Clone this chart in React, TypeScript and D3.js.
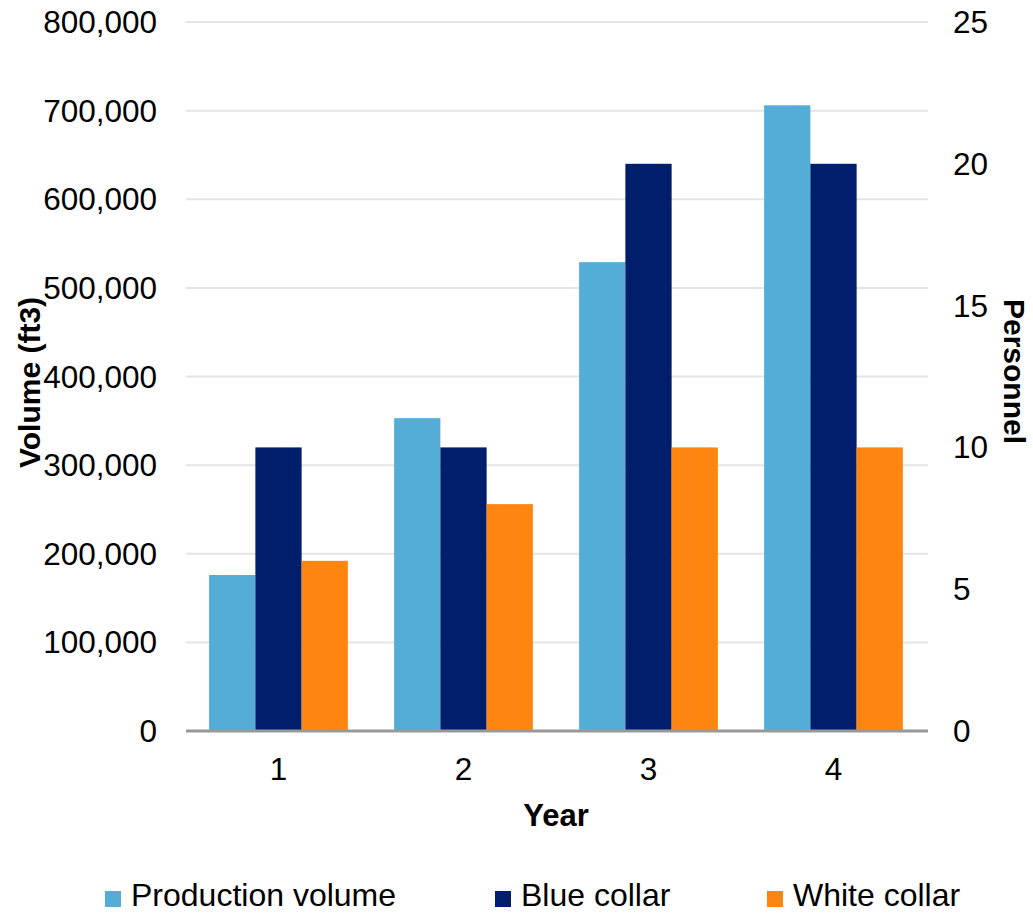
import React from 'react';
import * as d3 from 'd3';

const years = ['1', '2', '3', '4'];
const productionVolume = [176000, 353000, 529000, 706000];
const blueCollar = [10, 10, 20, 20];
const whiteCollar = [6, 8, 10, 10];
const volumeTicks = [0, 100000, 200000, 300000, 400000, 500000, 600000, 700000, 800000];
const personnelTicks = [0, 5, 10, 15, 20, 25];
const legendItems = ['Production volume', 'Blue collar', 'White collar'];

const COLORS = ['#53ADD6', '#001E6C', '#FF8511'];
const WIDTH = 1033;
const HEIGHT = 913;
const FONT = '"Liberation Sans", Arial, sans-serif';

export default function App() {
  const margin = { top: 22, right: 107, bottom: 182, left: 186 };
  const chartWidth = WIDTH - margin.left - margin.right;
  const chartHeight = HEIGHT - margin.top - margin.bottom;

  // x: one band per year, three bars inside each band
  const x0 = d3.scaleBand().domain(years).range([0, chartWidth]).paddingInner(0.25).paddingOuter(0.125);
  const x1 = d3.scaleBand().domain(['0', '1', '2']).range([0, x0.bandwidth()]);

  const yLeft = d3.scaleLinear().domain([0, 800000]).range([chartHeight, 0]);
  const yRight = d3.scaleLinear().domain([0, 25]).range([chartHeight, 0]);
  const fmt = d3.format(',');

  const bars = years.flatMap((yr, i) => [
    { yr, k: 0, y: yLeft(productionVolume[i]) },
    { yr, k: 1, y: yRight(blueCollar[i]) },
    { yr, k: 2, y: yRight(whiteCollar[i]) },
  ]);

  const legendX = [105, 495, 767];

  return (
    <svg
      width={WIDTH}
      height={HEIGHT}
      style={{ position: 'absolute', left: 0, top: 0, background: '#fff' }}
      fontFamily={FONT}
    >
      <g transform={`translate(${margin.left},${margin.top})`}>
        {/* gridlines */}
        {volumeTicks.slice(1).map(t => (
          <line key={t} x1={0} x2={chartWidth + 2} y1={yLeft(t)} y2={yLeft(t)} stroke="#E4E4E4" strokeWidth={2} />
        ))}
        {/* bars */}
        {bars.map((b, i) => (
          <rect
            key={i}
            x={(x0(b.yr) || 0) + (x1(String(b.k)) || 0)}
            y={b.y}
            width={x1.bandwidth()}
            height={chartHeight - b.y}
            fill={COLORS[b.k]}
          />
        ))}
        {/* baseline */}
        <line x1={0} x2={chartWidth + 2} y1={chartHeight} y2={chartHeight} stroke="#999" strokeWidth={3} />
        {/* left ticks */}
        {volumeTicks.map(t => (
          <text key={t} x={-29} y={yLeft(t)} dy="0.35em" textAnchor="end" fontSize={31.5} fill="#000">
            {fmt(t)}
          </text>
        ))}
        {/* right ticks */}
        {personnelTicks.map(t => (
          <text key={t} x={chartWidth + 27} y={yRight(t)} dy="0.35em" textAnchor="start" fontSize={31.5} fill="#000">
            {t}
          </text>
        ))}
        {/* x ticks */}
        {years.map(yr => (
          <text key={yr} x={(x0(yr) || 0) + x0.bandwidth() / 2} y={chartHeight + 49} textAnchor="middle" fontSize={31.5} fill="#000">
            {yr}
          </text>
        ))}
        <text x={chartWidth / 2} y={chartHeight + 95} textAnchor="middle" fontSize={31} fontWeight="bold">
          Year
        </text>
      </g>
      <text
        transform={`translate(40,${margin.top + chartHeight / 2 + 6}) rotate(-90)`}
        textAnchor="middle"
        fontSize={30}
        fontWeight="bold"
      >
        Volume (ft3)
      </text>
      <text
        transform={`translate(1004,${margin.top + chartHeight / 2 - 5}) rotate(90)`}
        textAnchor="middle"
        fontSize={30}
        fontWeight="bold"
      >
        Personnel
      </text>
      {/* legend */}
      {legendItems.map((name, i) => (
        <g key={name} transform={`translate(${legendX[i]},0)`}>
          <rect x={0} y={891} width={16} height={16} fill={COLORS[i]} />
          <text x={26} y={906} fontSize={32}>
            {name}
          </text>
        </g>
      ))}
    </svg>
  );
}
